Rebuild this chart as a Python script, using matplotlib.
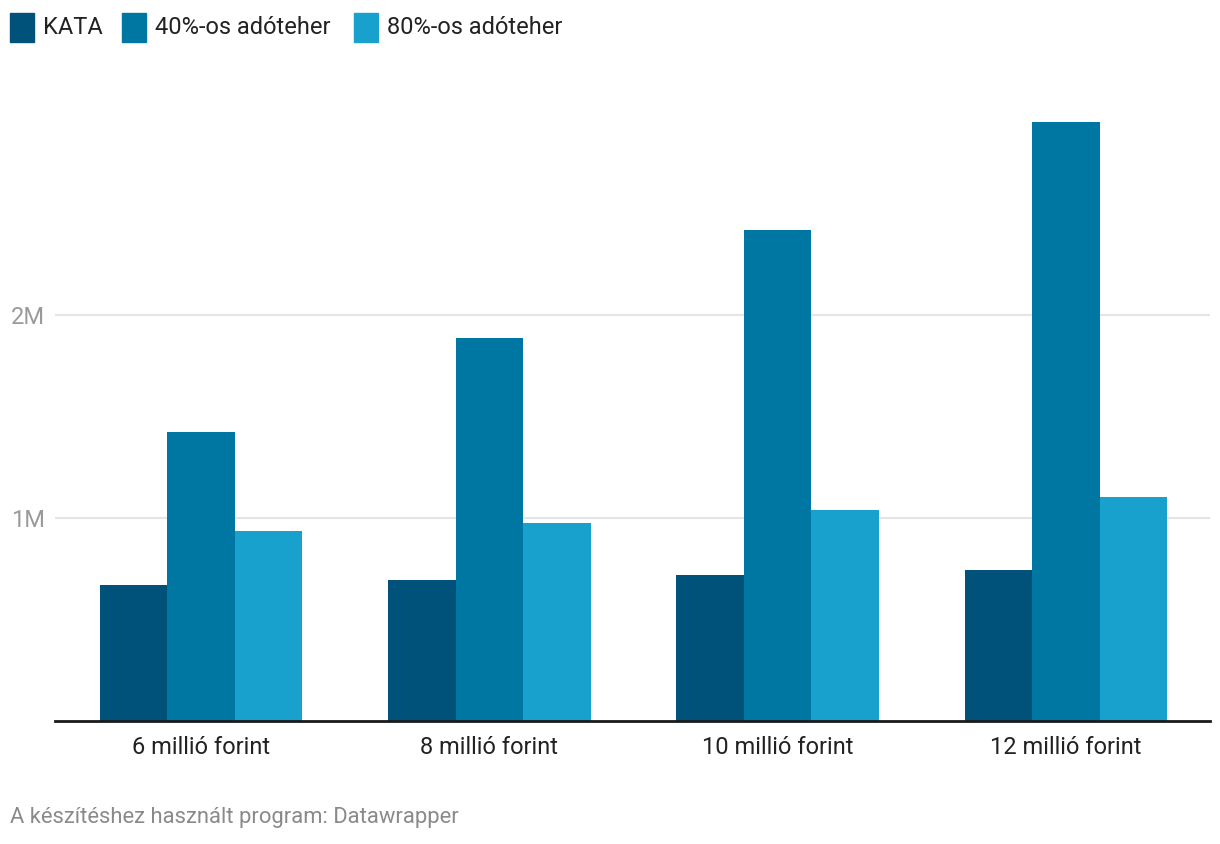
import numpy as np
import matplotlib
matplotlib.use('Agg')
import matplotlib.pyplot as plt
from matplotlib.patches import Rectangle

plt.rcParams['font.family'] = ['Roboto', 'DejaVu Sans']

categories = ['6 millió forint', '8 millió forint', '10 millió forint', '12 millió forint']
series_names = ['KATA', '40%-os adóteher', '80%-os adóteher']
kata = [670000, 695000, 719000, 744000]
ado40 = [1424000, 1887000, 2419000, 2951000]
ado80 = [936000, 975000, 1039000, 1103000]
colors = ['#00527a', '#0077a3', '#19a1ce']

fig = plt.figure(figsize=(12.2, 8.44), dpi=100)
ax = fig.add_axes([55/1220, 1-721/844, 1155/1220, 621/844])

x = np.arange(len(categories))
w = 0.234
for i, vals in enumerate([kata, ado40, ado80]):
    ax.bar(x + (i-1)*w, vals, w, color=colors[i], zorder=3)

ax.set_xlim(-0.507, 3.5)
ax.set_ylim(0, 3.06e6)
ax.set_yticks([1e6, 2e6])
ax.set_yticklabels(['1M', '2M'])
ax.grid(axis='y', color='#e5e5e5', linewidth=1.5, zorder=0)
ax.set_xticks(x)
ax.set_xticklabels(categories)
ax.tick_params(axis='x', length=0, pad=11, labelsize=17, labelcolor='#222222')
ax.tick_params(axis='y', length=0, pad=7, labelsize=17, labelcolor='#9a9a9a')
for s in ['top', 'right', 'left']:
    ax.spines[s].set_visible(False)
ax.spines['bottom'].set_color('#1a1a1a')
ax.spines['bottom'].set_linewidth(2)
ax.spines['bottom'].set_zorder(4)

# legend drawn at top
leg_x = [10, 122, 354]
for lx, name, c in zip(leg_x, series_names, colors):
    fig.patches.append(Rectangle((lx/1220, 1-42/844), 24/1220, 29/844,
                                 transform=fig.transFigure, color=c))
    fig.text((lx+33)/1220, 1-27/844, name, fontsize=17, color='#222222',
             va='center', ha='left')

fig.text(10/1220, 1-818/844, 'A készítéshez használt program: Datawrapper',
         fontsize=15.8, color='#8a8a8a', va='center', ha='left')

fig.savefig('out.png', dpi=100)
